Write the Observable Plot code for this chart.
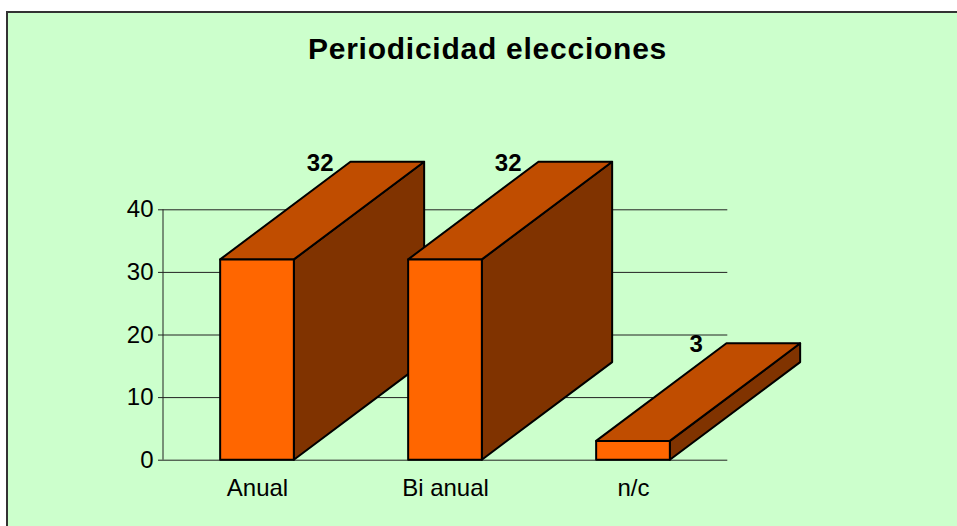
<!DOCTYPE html>
<html><head><meta charset="utf-8">
<script src="https://cdn.jsdelivr.net/npm/d3@7"></script>
<script src="https://cdn.jsdelivr.net/npm/@observablehq/plot@0.6"></script>
<style>
html,body{margin:0;padding:0;overflow:hidden;background:#fff;width:957px;height:526px;}
#frame{position:absolute;left:6px;top:11px;width:1000px;height:600px;border:2px solid #333;background:#ccffcc;box-sizing:border-box;}
#title{position:absolute;left:0;top:34px;width:975px;text-align:center;font:bold 30px "Liberation Sans",Arial,sans-serif;line-height:30px;letter-spacing:0.75px;color:#000;}
#plot{position:absolute;left:0;top:100px;}
</style></head>
<body>
<div id="frame"></div>
<div id="title">Periodicidad elecciones</div>
<div id="plot"></div>
<script>
const categories = ["Anual", "Bi anual", "n/c"];
const values = [32, 32, 3];
const yTicks = [0, 10, 20, 30, 40];

const data = categories.map((c, i) => ({category: c, value: values[i]}));

const DX = 130.3, DY = 97.6;      // 3D depth offset (px)
const BAR_RATIO = 0.392;           // front width relative to band step
const FRONT = "#ff6600", TOP = "#c04d00", SIDE = "#803300";

function axisLine(index, scales) {
  const X = scales.x, Y = scales.y;
  const x = X(categories[0]);
  return d3.create("svg:line")
    .attr("x1", x).attr("x2", x)
    .attr("y1", Y(0)).attr("y2", Y(d3.max(yTicks)))
    .attr("stroke", "#222").attr("stroke-width", 1)
    .node();
}

function boxes(index, scales) {
  const X = scales.x, Y = scales.y;
  const step = X(categories[1]) - X(categories[0]);
  const inset = step * (1 - BAR_RATIO) / 2;
  const g = d3.create("svg:g")
    .attr("stroke", "#000")
    .attr("stroke-width", 2)
    .attr("stroke-linejoin", "round");
  const poly = pts => "M" + pts.map(p => p.join(",")).join("L") + "Z";
  data.forEach(d => {
    const x0 = X(d.category) + inset, x1 = X(d.category) + step - inset;
    const yb = Y(0), yt = Y(d.value);
    g.append("path").attr("fill", SIDE)
      .attr("d", poly([[x1, yt], [x1 + DX, yt - DY], [x1 + DX, yb - DY], [x1, yb]]));
    g.append("path").attr("fill", TOP)
      .attr("d", poly([[x0, yt], [x0 + DX, yt - DY], [x1 + DX, yt - DY], [x1, yt]]));
    g.append("path").attr("fill", FRONT)
      .attr("d", poly([[x0, yt], [x1, yt], [x1, yb], [x0, yb]]));
  });
  return g.node();
}

const chart = Plot.plot({
  width: 957,
  height: 426,
  marginLeft: 163,
  marginRight: 229.7,
  marginTop: 109.3,
  marginBottom: 66.3,
  style: {background: "transparent", fontFamily: "'Liberation Sans', Arial, sans-serif", fontSize: "24px", color: "#000", overflow: "visible"},
  x: {domain: categories, padding: 0, type: "band"},
  y: {domain: [0, 40], ticks: yTicks},
  marks: [
    Plot.gridY(yTicks, {stroke: "#222", strokeOpacity: 1, strokeWidth: 1}),
    Plot.axisY(yTicks, {tickSize: 5, tickPadding: 5, fontSize: 24, label: null, stroke: "#222"}),
    Plot.axisX({tickSize: 0, tickPadding: 19, fontSize: 24, label: null}),
    axisLine,
    boxes,
    Plot.text(data, {x: "category", y: "value", text: d => String(d.value), dx: DX / 2 - 2.5, dy: -DY + 0.6, fontSize: 24, fontWeight: "bold", fill: "#000"})
  ]
});
document.getElementById("plot").appendChild(chart);
</script>
</body></html>
